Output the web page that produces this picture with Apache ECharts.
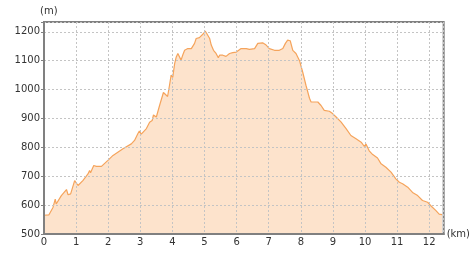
<!DOCTYPE html>
<html>
<head>
<meta charset="utf-8">
<script src="https://cdn.jsdelivr.net/npm/echarts@6/dist/echarts.min.js"></script>
<style>html,body{margin:0;padding:0;background:#fff;}#c{width:473px;height:260px;}</style>
</head>
<body>
<div id="c"></div>
<script>
var distKm = [0,0.15,0.28,0.35,0.38,0.54,0.59,0.70,0.75,0.83,0.955,1.0,1.06,1.21,1.37,1.42,1.45,1.55,1.63,1.79,1.99,2.15,2.46,2.72,2.82,2.93,2.97,3.03,3.19,3.29,3.37,3.41,3.50,3.60,3.72,3.78,3.85,3.91,3.96,4.01,4.07,4.12,4.17,4.22,4.27,4.32,4.38,4.48,4.59,4.69,4.74,4.84,4.90,4.97,5.02,5.07,5.16,5.21,5.28,5.36,5.43,5.47,5.57,5.67,5.78,5.88,5.99,6.04,6.14,6.19,6.30,6.40,6.56,6.66,6.81,6.92,7.02,7.18,7.33,7.44,7.52,7.59,7.67,7.75,7.85,7.96,8.06,8.16,8.27,8.32,8.39,8.45,8.53,8.63,8.73,8.89,8.99,9.10,9.25,9.41,9.56,9.72,9.88,9.98,10.03,10.13,10.24,10.39,10.50,10.65,10.81,10.96,11.07,11.17,11.33,11.48,11.64,11.79,11.95,12.05,12.21,12.31,12.40];
var elevM = [565,566,592,621,604,633,627,654,636,639,685,688,668,685,708,720,712,737,734,734,755,772,795,812,824,849,856,846,865,887,893,912,905,945,990,984,976,1015,1050,1042,1090,1113,1125,1119,1102,1119,1136,1142,1142,1160,1177,1180,1177,1194,1203,1194,1177,1154,1136,1125,1110,1119,1119,1115,1125,1128,1130,1125,1142,1136,1142,1139,1142,1160,1162,1154,1142,1136,1136,1142,1160,1171,1169,1136,1125,1100,1060,1015,970,957,957,963,957,945,928,925,917,905,888,865,841,830,818,803,812,788,775,763,743,731,714,691,679,674,662,644,633,616,610,598,581,569,567];
var xTicks = [0,1,2,3,4,5,6,7,8,9,10,11,12];
var yTicks = [500,600,700,800,900,1000,1100,1200];

var pts = distKm.map(function(d,i){return [d, elevM[i]];});
var chart = echarts.init(document.getElementById('c'), null, {renderer:'canvas'});
var font = 'DejaVu Sans';
chart.setOption({
  animation:false,
  grid:{left:44,right:29,top:22,bottom:26,show:true,borderColor:'#808080',borderWidth:2,backgroundColor:'transparent',z:3},
  xAxis:{type:'value',min:0,max:12.45,interval:1,z:3,
    name:'(km)',nameLocation:'end',nameGap:3,
    nameTextStyle:{color:'#333',fontFamily:font,fontSize:10,padding:[0,0,12,0]},
    axisLine:{show:true,lineStyle:{color:'#808080',width:2}},
    axisTick:{show:false},
    axisLabel:{color:'#333',fontFamily:font,fontSize:10,margin:3,
      formatter:function(v){return xTicks.indexOf(Math.round(v*1000)/1000)>=0?String(v):'';}},
    splitLine:{show:true,lineStyle:{color:'#c4c4c4',type:[2,2],width:1}}},
  yAxis:{type:'value',min:500,max:1234,interval:100,z:3,
    name:'(m)',nameLocation:'end',nameGap:6,
    nameTextStyle:{color:'#333',fontFamily:font,fontSize:10,align:'left',padding:[0,0,0,-4]},
    axisLine:{show:true,lineStyle:{color:'#808080',width:2}},
    axisTick:{show:true,length:3,lineStyle:{color:'#808080'}},
    axisLabel:{color:'#333',fontFamily:font,fontSize:10,margin:4,
      formatter:function(v){return yTicks.indexOf(v)>=0?String(v):'';}},
    splitLine:{show:true,lineStyle:{color:'#c4c4c4',type:[2,2],width:1}}},
  series:[{type:'line',data:pts,showSymbol:false,smooth:false,z:1,
    lineStyle:{color:'#f5a45c',width:1.2},
    areaStyle:{color:'#fde3cc',opacity:1}}]
});
</script>
</body>
</html>
